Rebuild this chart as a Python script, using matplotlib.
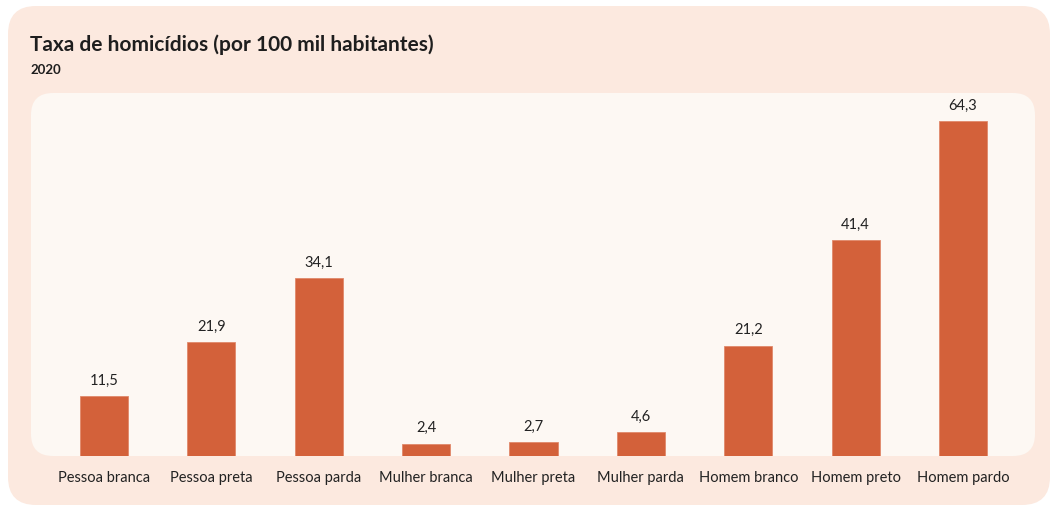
import matplotlib
matplotlib.use('Agg')
import matplotlib.pyplot as plt
from matplotlib.patches import FancyBboxPatch

# data
categories = ['Pessoa branca', 'Pessoa preta', 'Pessoa parda', 'Mulher branca', 'Mulher preta',
              'Mulher parda', 'Homem branco', 'Homem preto', 'Homem pardo']
values = [11.5, 21.9, 34.1, 2.4, 2.7, 4.6, 21.2, 41.4, 64.3]
labels = ['11,5', '21,9', '34,1', '2,4', '2,7', '4,6', '21,2', '41,4', '64,3']

plt.rcParams['font.family'] = ['Lato', 'DejaVu Sans']

W, H = 1054, 509
fig = plt.figure(figsize=(W / 100, H / 100), dpi=100)
fig.patch.set_facecolor('white')

# outer card
outer = FancyBboxPatch((8 + 28, 4 + 28), 1042 - 56, 499 - 56,
                       boxstyle='round,pad=28', transform=None,
                       facecolor='#fce9df', edgecolor='none', zorder=-2)
fig.patches.append(outer)
# inner panel
inner = FancyBboxPatch((31 + 22, 53 + 22), 1004 - 44, 363 - 44,
                       boxstyle='round,pad=22', transform=None,
                       facecolor='#fdf8f3', edgecolor='none', zorder=-1)
fig.patches.append(inner)

fig.text(30 / W, 1 - 45 / H, 'Taxa de homicídios (por 100 mil habitantes)',
         fontsize=15, fontweight='bold', color='#1e1e1e', va='center', ha='left')
fig.text(30 / W, 1 - 70 / H, '2020', fontsize=9.5, fontweight='bold',
         color='#1e1e1e', va='center', ha='left')

ax = fig.add_axes([32 / W, 53 / H, 1003 / W, 363 / H])
ax.set_zorder(2)
ax.set_facecolor('none')
x = list(range(len(categories)))
bars = ax.bar(x, values, width=0.45, color='#d3613a', edgecolor='#e0896a', linewidth=0.6)
for xi, v, lab in zip(x, values, labels):
    ax.annotate(lab, (xi, v), xytext=(0, 6), textcoords='offset points',
                ha='center', va='bottom', fontsize=10.5, color='#222222')

ax.set_xlim(-0.67, 8.67)
ax.set_ylim(0, 69.7)
ax.set_xticks(x)
ax.set_xticklabels(categories, fontsize=10.5, color='#222222')
ax.tick_params(axis='x', length=0, pad=11)
ax.set_yticks([])
for s in ax.spines.values():
    s.set_visible(False)

fig.savefig('out.png', dpi=100)
